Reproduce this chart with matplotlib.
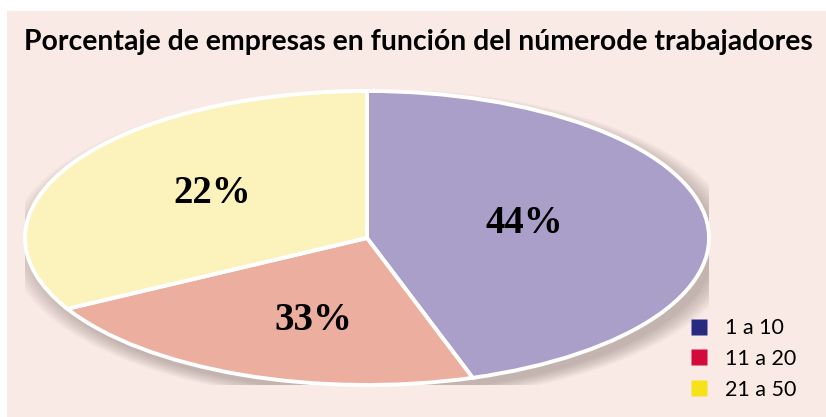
import numpy as np
import matplotlib.pyplot as plt
from matplotlib.patches import Rectangle, Ellipse
from matplotlib.lines import Line2D

categorias = ["1 a 10", "11 a 20", "21 a 50"]
etiquetas = ["44%", "33%", "22%"]
# slice sizes as they are drawn in the picture
sectores = [45, 22, 33]
colores = ["#a99fc9", "#ecae9f", "#fbf3bb"]
colores_leyenda = ["#272a80", "#d40a3a", "#f5e21a"]

fig = plt.figure(figsize=(8.26, 4.17), dpi=100)
fig.patch.set_facecolor("white")

# pink panel
fig.patches.append(Rectangle((7 / 826, 0), 1, 406 / 417, transform=fig.transFigure,
                             facecolor="#faeae6", edgecolor="none", zorder=-5))

fig.text(418 / 826, 1 - 42 / 417, "Porcentaje de empresas en función del númerode trabajadores",
         ha="center", va="center", fontsize=20.4, fontweight="bold", family="Lato")

ax = fig.add_axes([25 / 826, 32 / 417, 684 / 826, 294 / 417])
ax.set_facecolor("none")

# soft shadow under the pie
for i in range(12):
    s = 1 + i * 0.006
    ax.add_patch(Ellipse((0.02, -0.05), 2 * s, 2 * s, facecolor="#6b5e5a",
                         edgecolor="none", alpha=0.035, zorder=0))

wedges, _ = ax.pie(sectores, colors=colores, startangle=90, counterclock=False,
                   wedgeprops=dict(edgecolor="white", linewidth=2.8))
for w in wedges:
    w.set_zorder(2)

# label placement: distance from centre (fraction of radius) and a small turn
radios = [0.47, 0.58, 0.545]
giros = [3.5, 6, -3.5]
for w, txt, r, g in zip(wedges, etiquetas, radios, giros):
    mid = np.deg2rad((w.theta1 + w.theta2) / 2 + g)
    ax.text(r * np.cos(mid), r * np.sin(mid), txt, ha="center", va="center",
            fontsize=28, fontweight="bold", family="Liberation Serif", zorder=3)

ax.set_aspect("auto")
ax.set_xlim(-1, 1)
ax.set_ylim(-1, 1)
ax.axis("off")

handles = [Line2D([], [], marker="s", linestyle="none", markersize=12,
                  markerfacecolor=c, markeredgecolor="none") for c in colores_leyenda]
fig.legend(handles, categorias, loc="center left", bbox_to_anchor=(658 / 826, 1 - 359 / 417),
           frameon=False, handletextpad=0.2, labelspacing=0.5,
           prop={"family": "Lato", "size": 15.5})

fig.savefig("out.png", dpi=100)
